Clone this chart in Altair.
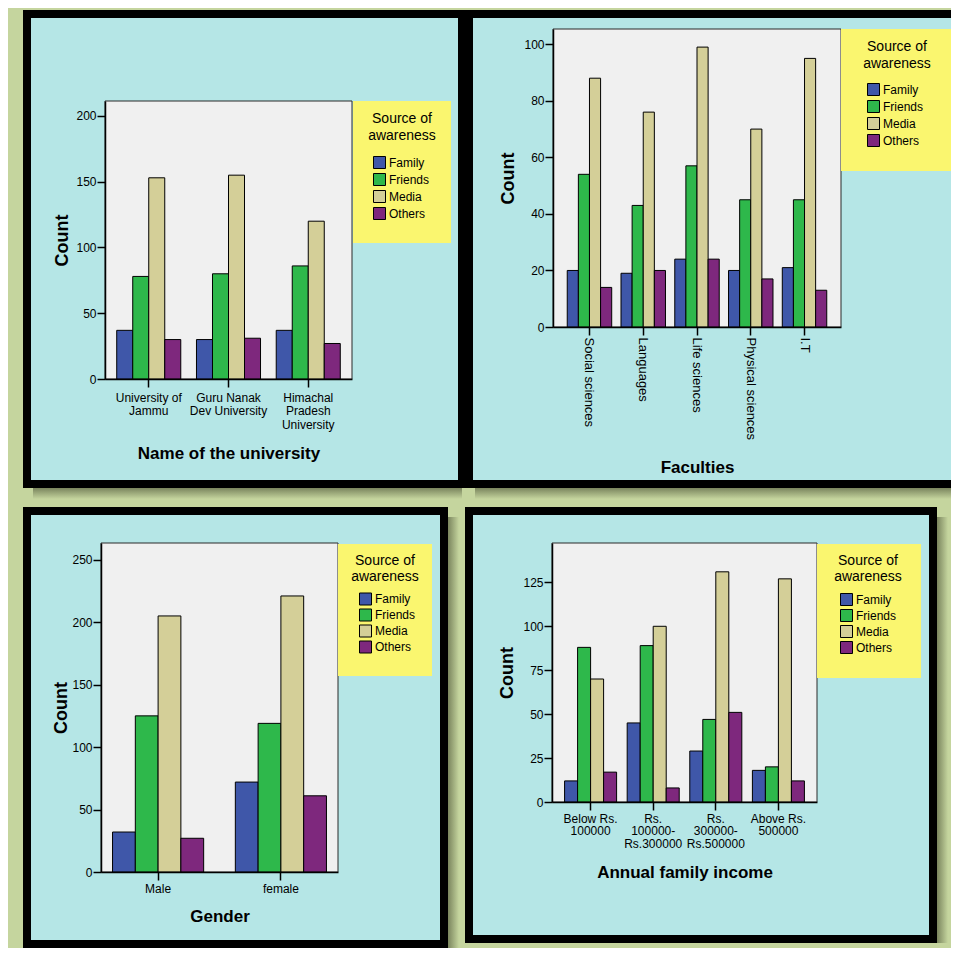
import altair as alt
import pandas as pd

# ---------------- data ----------------
sources = ["Family", "Friends", "Media", "Others"]
colors = ["#3f57a9", "#2eb84b", "#d4cf98", "#7e287d"]

uni_cats = ["University of\nJammu", "Guru Nanak\nDev University", "Himachal\nPradesh\nUniversity"]
uni_family = [37, 30, 37]
uni_friends = [78, 80, 86]
uni_media = [153, 155, 120]
uni_others = [30, 31, 27]

fac_cats = ["Social sciences", "Languages", "Life sciences", "Physical sciences", "I.T"]
fac_family = [20, 19, 24, 20, 21]
fac_friends = [54, 43, 57, 45, 45]
fac_media = [88, 76, 99, 70, 95]
fac_others = [14, 20, 24, 17, 13]

gen_cats = ["Male", "female"]
gen_family = [32, 72]
gen_friends = [125, 119]
gen_media = [205, 221]
gen_others = [27, 61]

inc_cats = ["Below  Rs.\n100000", "Rs.\n100000-\nRs.300000", "Rs.\n300000-\nRs.500000", "Above Rs.\n500000"]
inc_family = [12, 45, 29, 18]
inc_friends = [88, 89, 47, 20]
inc_media = [70, 100, 131, 127]
inc_others = [17, 8, 51, 12]

OLIVE = "#c5d59e"
CYAN = "#b5e6e6"
YELLOW = "#faf66f"
PLOTBG = "#f0f0f0"
FONT = "Liberation Sans"


def long_df(cats, fam, fri, med, oth):
    rows = []
    for s, vals in zip(sources, [fam, fri, med, oth]):
        for c, v in zip(cats, vals):
            rows.append({"cat": c, "src": s, "val": v})
    return pd.DataFrame(rows)


one = pd.DataFrame({"k": [0]})

SH0 = "rgba(60,66,40,0.55)"
SH1 = "rgba(60,66,40,0)"


def shadow_right(W, H):
    g = alt.LinearGradient(gradient="linear", x1=0, x2=1, y1=0, y2=0,
                           stops=[alt.GradientStop(color=SH0, offset=0), alt.GradientStop(color=SH1, offset=1)])
    return alt.Chart(one).mark_rect(fill=g).encode(
        x=alt.value(W + 4), x2=alt.value(W + 15), y=alt.value(6), y2=alt.value(H + 4))


def shadow_bottom(W, H):
    g = alt.LinearGradient(gradient="linear", x1=0, x2=0, y1=0, y2=1,
                           stops=[alt.GradientStop(color=SH0, offset=0), alt.GradientStop(color=SH1, offset=1)])
    return alt.Chart(one).mark_rect(fill=g).encode(
        x=alt.value(6), x2=alt.value(W), y=alt.value(H + 4), y2=alt.value(H + 15))


def border_rect(xa, xb, ya, yb):
    return alt.Chart(one).mark_rect(fill="black").encode(
        x=alt.value(xa), x2=alt.value(xb), y=alt.value(ya), y2=alt.value(yb))


def panel(df, cats, W, H, plot, lbox, ttl, leg, y_top, y_ticks, pad_in, pad_out,
          xtitle, xtitle_y, ytitle_x, lab_pad, line_h=13.5, rotated=False, right_border=True, shadows=()):
    x0, x1, y0, y1 = plot
    layers = [s(W, H) for s in shadows]
    layers += [
        border_rect(-4, W + 4 if right_border else W, -4, 4),
        border_rect(-4, W + 4 if right_border else W, H - 4, H + 4),
        border_rect(-4, 4, -4, H + 4),
    ]
    if right_border:
        layers.append(border_rect(W - 4, W + 4, -4, H + 4))
    bg = alt.Chart(one).mark_rect(fill=PLOTBG, stroke="#2a2a2a", strokeWidth=1).encode(
        x=alt.value(x0), x2=alt.value(x1), y=alt.value(y0), y2=alt.value(y1))
    box = alt.Chart(one).mark_rect(fill=YELLOW).encode(
        x=alt.value(lbox[0]), x2=alt.value(min(lbox[1], W)), y=alt.value(lbox[2]), y2=alt.value(lbox[3]))
    t1 = alt.Chart(one).mark_text(fontSize=14, align="center", baseline="middle", color="black").encode(
        x=alt.value(ttl[0]), y=alt.value(ttl[1]), text=alt.value("Source of"))
    t2 = alt.Chart(one).mark_text(fontSize=14, align="center", baseline="middle", color="black").encode(
        x=alt.value(ttl[0]), y=alt.value(ttl[2]), text=alt.value("awareness"))

    if rotated:
        xlab = dict(labelAngle=90, labelAlign="left", labelBaseline="middle", labelPadding=lab_pad, labelFontSize=13)
    else:
        xlab = dict(labelAngle=0, labelAlign="center", labelBaseline="top", labelPadding=lab_pad,
                    labelFontSize=12, labelLineHeight=line_h, labelExpr="split(datum.label, '\\n')")

    bars = alt.Chart(df).mark_bar(stroke="black", strokeWidth=1).encode(
        x=alt.X("cat:N", sort=cats,
                scale=alt.Scale(range=[x0, x1], paddingInner=pad_in, paddingOuter=pad_out),
                axis=alt.Axis(title=xtitle, orient="bottom", offset=-(H - y1), titleY=xtitle_y,
                              titleBaseline="middle", titleFontSize=17, titleFontWeight="bold",
                              domainColor="black", domainWidth=1.5, tickColor="black", tickWidth=1.5,
                              tickSize=8, labelColor="black", labelLimit=200, zindex=1, **xlab)),
        xOffset=alt.XOffset("src:N", sort=sources),
        y=alt.Y("val:Q",
                scale=alt.Scale(domain=[0, y_top], range=[y1, y0], nice=False, zero=True),
                axis=alt.Axis(title="Count", orient="left", offset=-x0, values=y_ticks, format="d",
                              titleX=ytitle_x, titleBaseline="middle", titleFontSize=18,
                              titleFontWeight="bold", domainColor="black", domainWidth=1.5,
                              tickColor="black", tickWidth=1.5, tickSize=8, labelPadding=1,
                              labelFontSize=12, labelColor="black", grid=False, zindex=1)),
        color=alt.Color("src:N", sort=sources,
                        scale=alt.Scale(domain=sources, range=colors),
                        legend=alt.Legend(orient="none", legendX=leg[0], legendY=leg[1], title=None,
                                          symbolType="square", symbolSize=144, symbolStrokeColor="black",
                                          symbolStrokeWidth=1, labelFontSize=12, labelColor="black",
                                          rowPadding=leg[2], labelOffset=3, padding=0, zindex=1)),
    )
    layers += [bg, box, t1, t2, bars]
    return alt.layer(*layers).properties(
        width=W, height=H, view=alt.ViewBackground(fill=CYAN, stroke="transparent", strokeWidth=0))


p1 = panel(long_df(uni_cats, uni_family, uni_friends, uni_media, uni_others), uni_cats,
           435, 470, (78, 325, 87, 365), (326, 424, 87, 229), (375, 105, 122), (346, 142, 0),
           211.4, [0, 50, 100, 150, 200], 0.197, 0.147,
           "Name of the university", 74, -42.7, 5, shadows=(shadow_bottom,))

p2 = panel(long_df(fac_cats, fac_family, fac_friends, fac_media, fac_others), fac_cats,
           482, 470, (84, 372, 15, 313), (372, 483, 15, 157), (428, 33, 50), (398, 69, 0),
           105.4, [0, 20, 40, 60, 80, 100], 0.173, 0.265,
           "Faculties", 140, -44.7, 2, rotated=True, right_border=False, shadows=(shadow_bottom,))

p3 = panel(long_df(gen_cats, gen_family, gen_friends, gen_media, gen_others), gen_cats,
           417, 433, (74, 311, 32, 361), (311, 405, 33, 165), (358, 49.7, 65.7), (332, 81.5, -1),
           263.4, [0, 50, 100, 150, 200, 250], 0.258, 0.094,
           "Gender", 44, -40, 3, shadows=(shadow_right,))

p4 = panel(long_df(inc_cats, inc_family, inc_friends, inc_media, inc_others), inc_cats,
           464, 428, (83, 348, 32, 291), (348, 452, 33, 167), (399, 49.7, 65.7), (371, 82, -1),
           147.4, [0, 25, 50, 75, 100, 125], 0.169, 0.201,
           "Annual family income", 70, -44.3, 3, line_h=12.7, shadows=(shadow_right,))

chart = alt.concat(p1, p2, p3, p4, columns=2, spacing={"row": 27, "column": 7}, bounds="flush").resolve_scale(
    x="independent", y="independent", xOffset="independent", color="independent"
).properties(
    padding={"left": 15, "top": 2, "right": 0, "bottom": 0},
    background=OLIVE,
).configure(font=FONT).configure_view(strokeWidth=0).configure_axis(
    labelFont=FONT, titleFont=FONT
).configure_legend(labelFont=FONT)

chart.save("out.html", embed_options={"renderer": "svg", "actions": False})
